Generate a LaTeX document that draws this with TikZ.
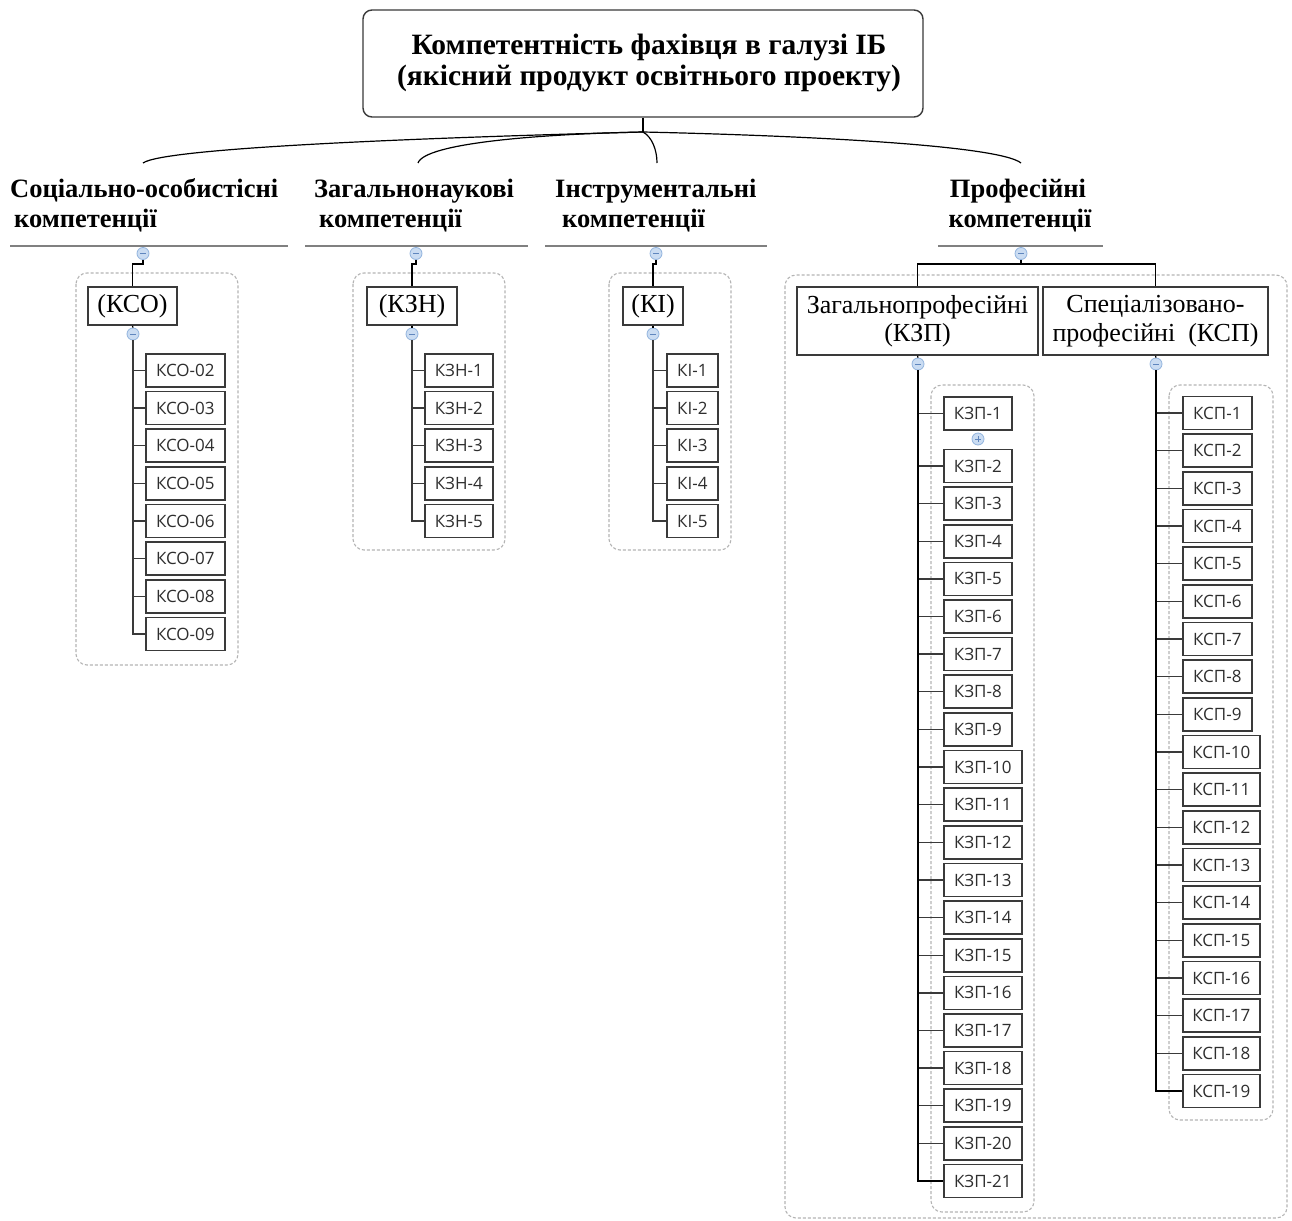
\documentclass[tikz,border=0pt]{standalone}
\usepackage{fontspec}
\setmainfont{Liberation Serif}
\newfontfamily\tagfont{Open Sans}
\usetikzlibrary{calc}

\definecolor{inkline}{HTML}{3A3A3A}
\definecolor{tagink}{HTML}{2E2E2E}
\definecolor{grouprule}{HTML}{B4B4B4}
\definecolor{headrule}{HTML}{808080}
\definecolor{knobfill}{HTML}{CADCF2}
\definecolor{knobedge}{HTML}{92B4DE}
\definecolor{knobmark}{HTML}{5F86BE}

\tikzset{
  rootbox/.style={draw=inkline, line width=1.4pt, rounded corners=9pt, inner sep=0pt,
    align=center, font=\fontsize{29.5}{31}\selectfont\bfseries},
  cattext/.style={inner sep=0pt, font=\fontsize{26.5}{30}\selectfont\bfseries},
  headrulebar/.style={fill=headrule, inner sep=0pt, minimum height=2.4pt},
  subbox/.style={draw=inkline, line width=1.7pt, inner sep=0pt, align=center,
    font=\fontsize{26}{28.5}\selectfont},
  tagbox/.style={draw=inkline, line width=1.6pt, inner sep=0pt, minimum height=33pt,
    font=\tagfont\fontsize{17}{19}\selectfont, text=tagink},
  groupframe/.style={draw=grouprule, line width=1.1pt, dash pattern=on 3pt off 2pt, rounded corners=11pt},
  knob/.style={circle, draw=knobedge, fill=knobfill, line width=0.8pt, minimum size=12pt, inner sep=0pt},
  minusknob/.style={knob, path picture={\draw[knobmark, line width=0.9pt]
     ([xshift=-3pt]path picture bounding box.center) -- ([xshift=3pt]path picture bounding box.center);}},
  plusknob/.style={knob, path picture={\draw[knobmark, line width=0.9pt]
     ([xshift=-3pt]path picture bounding box.center) -- ([xshift=3pt]path picture bounding box.center)
     ([yshift=-3pt]path picture bounding box.center) -- ([yshift=3pt]path picture bounding box.center);}},
  wire/.style={draw=black, line width=1.2pt},
  trunk/.style={draw=inkline, line width=1.8pt},
  heavytrunk/.style={draw=black, line width=2.6pt},
  twig/.style={draw=inkline, line width=1.4pt},
}

\begin{document}
\begin{tikzpicture}[x=1pt,y=-1pt]
\useasboundingbox (0,0) rectangle (1292,1220);
\fill[white] (0,0) rectangle (1292,1220);

% dashed group frames
\draw[groupframe] (76,273) rectangle (238,665);
\draw[groupframe] (353,273) rectangle (505,550);
\draw[groupframe] (609,273) rectangle (731,550);
\draw[groupframe] (785,275) rectangle (1287,1218);
\draw[groupframe] (931,385) rectangle (1034,1212);
\draw[groupframe] (1169,385) rectangle (1273,1120);

% root
\node[rootbox, minimum width=560pt, minimum height=107pt] (root) at (643,63.5) {};
\node[inner sep=0pt, align=center, font=\fontsize{29.5}{31}\selectfont\bfseries] (roottext) at (649,63)
  {Компетентність фахівця в галузі ІБ\\(якісний продукт освітнього проекту)};

% category headings
\node[cattext, anchor=base west] (cat1a) at (10,197) {Соціально-особистісні};
\node[cattext, anchor=base west] (cat1b) at (14,227) {компетенції};
\node[cattext, anchor=base west] (cat2a) at (314,197) {Загальнонаукові};
\node[cattext, anchor=base west] (cat2b) at (319,227) {компетенції};
\node[cattext, anchor=base west] (cat3a) at (555,197) {Інструментальні};
\node[cattext, anchor=base west] (cat3b) at (562,227) {компетенції};
\node[cattext, anchor=base] (cat4a) at (1018,197) {Професійні};
\node[cattext, anchor=base] (cat4b) at (1020,227) {компетенції};

\node[headrulebar, minimum width=278pt] (rule1) at (149,246) {};
\node[headrulebar, minimum width=223pt] (rule2) at (416.5,246) {};
\node[headrulebar, minimum width=222pt] (rule3) at (656,246) {};
\node[headrulebar, minimum width=165pt] (rule4) at (1020.5,246) {};

% curved connectors from the root
\coordinate (hub) at (643,132);
\coordinate (top1) at (143,163);
\coordinate (top2) at (418,163);
\coordinate (top3) at (657,163);
\coordinate (top4) at (1021,163);
\draw[wire] (root.south) -- (hub);
\draw[wire] (hub) .. controls (450,137) and (165,147) .. (top1);
\draw[wire] (hub) .. controls (540,134) and (425,143) .. (top2);
\draw[wire] (hub) .. controls (652,137) and (657,150) .. (top3);
\draw[wire] (hub) .. controls (820,136) and (1000,146) .. (top4);

% sub-headings
\node[subbox, minimum width=89pt, minimum height=38pt] (sub1) at (132.5,306) {(КСО)};
\node[subbox, minimum width=90pt, minimum height=38pt] (sub2) at (412,306) {(КЗН)};
\node[subbox, minimum width=60pt, minimum height=38pt] (sub3) at (653,306) {(КІ)};
\node[subbox, minimum width=241pt, minimum height=68pt] (sub4) at (917.5,321) {Загальнопрофесійні\\(КЗП)};
\node[subbox, minimum width=225pt, minimum height=68pt] (sub5) at (1155.5,321) {Спеціалізовано-\\професійні~~(КСП)};

% collapse knobs under the headings
\node[minusknob] (btn1) at (143,253.5) {};
\node[minusknob] (btn2) at (416,253.5) {};
\node[minusknob] (btn3) at (656,253.5) {};
\node[minusknob] (btn4) at (1021,253.5) {};

\draw[wire] (btn1.south) -- ++(0,4) -| (sub1.north);
\draw[wire] (btn2.south) -- ++(0,4) -| (sub2.north);
\draw[wire] (btn3.south) -- ++(0,4) -| (sub3.north);
\draw[wire] (btn4.south) -- ++(0,4) coordinate (pj);
\draw[wire] (sub4.north) |- (pj) -| (sub5.north);

% knobs under the sub-headings
\node[minusknob] (kb1) at (133,334) {};
\node[minusknob] (kb2) at (412,334) {};
\node[minusknob] (kb3) at (653,334) {};
\node[minusknob] (kb4) at (918,364) {};
\node[minusknob] (kb5) at (1156,364) {};
\foreach \s/\k in {sub1/kb1,sub2/kb2,sub3/kb3,sub4/kb4,sub5/kb5}
  \draw[wire] (\s.south) -- (\k.north);

% КСО list
\foreach \lbl [count=\k from 0] in {02,03,04,05,06,07,08,09}{
  \node[tagbox, minimum width=79pt, anchor=west] (kso-\lbl) at (145,370.5+37.64*\k) {КСО-\lbl};
  \draw[twig] (kso-\lbl.west) -- (kso-\lbl.west -| kb1);
}
\draw[trunk] (kb1.south) -- (kb1 |- kso-09.west) -- (kso-09.west);

% КЗН list
\foreach \n in {1,...,5}{
  \node[tagbox, minimum width=68pt, anchor=west] (kzn-\n) at (424,370.5+37.64*\n-37.64) {КЗН-\n};
  \draw[twig] (kzn-\n.west) -- (kzn-\n.west -| kb2);
}
\draw[trunk] (kb2.south) -- (kb2 |- kzn-5.west) -- (kzn-5.west);

% КІ list
\foreach \n in {1,...,5}{
  \node[tagbox, minimum width=51pt, anchor=west] (ki-\n) at (666,370.5+37.64*\n-37.64) {КІ-\n};
  \draw[twig] (ki-\n.west) -- (ki-\n.west -| kb3);
}
\draw[trunk] (kb3.south) -- (kb3 |- ki-5.west) -- (ki-5.west);

% КЗП list
\foreach \n in {1,...,21}{
  \pgfmathsetmacro{\yy}{\n==1 ? 413.5 : 466+37.63*(\n-2)}
  \pgfmathsetmacro{\ww}{\n<10 ? 68 : 78}
  \node[tagbox, minimum width=\ww*1pt, anchor=west] (kzp-\n) at (943,\yy) {КЗП-\n};
  \draw[twig] (kzp-\n.west) -- (kzp-\n.west -| kb4);
}
\draw[heavytrunk] (kb4.south) -- (kb4 |- kzp-21.west) -- (kzp-21.west);
\node[plusknob] (kzpplus) at (978,439) {};

% КСП list
\foreach \n in {1,...,19}{
  \pgfmathsetmacro{\yy}{413+37.67*(\n-1)}
  \pgfmathsetmacro{\ww}{\n<10 ? 69 : 77}
  \node[tagbox, minimum width=\ww*1pt, anchor=west] (ksp-\n) at (1182,\yy) {КСП-\n};
  \draw[twig] (ksp-\n.west) -- (ksp-\n.west -| kb5);
}
\draw[heavytrunk] (kb5.south) -- (kb5 |- ksp-19.west) -- (ksp-19.west);

\end{tikzpicture}
\end{document}
